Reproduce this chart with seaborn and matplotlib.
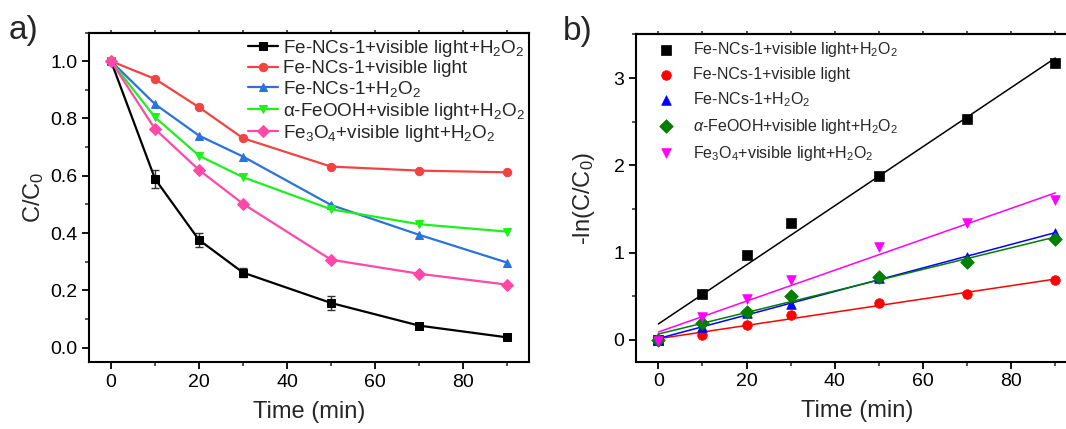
import numpy as np
import pandas as pd
import matplotlib
matplotlib.use('Agg')
import matplotlib.pyplot as plt
from matplotlib.ticker import MultipleLocator, FormatStrFormatter
import seaborn as sns

sns.set_style('ticks')
plt.rcParams['font.family'] = ['Liberation Sans', 'DejaVu Sans']
plt.rcParams['mathtext.fontset'] = 'custom'
plt.rcParams['mathtext.rm'] = 'Liberation Sans'
plt.rcParams['mathtext.it'] = 'Liberation Sans:italic'
plt.rcParams['mathtext.bf'] = 'Liberation Sans:bold'

# time points (min)
time = [0, 10, 20, 30, 50, 70, 90]

# panel a: C/C0
labels_a = ['Fe-NCs-1+visible light+H$_2$O$_2$',
            'Fe-NCs-1+visible light',
            'Fe-NCs-1+H$_2$O$_2$',
            'α-FeOOH+visible light+H$_2$O$_2$',
            'Fe$_3$O$_4$+visible light+H$_2$O$_2$']
cc_fenc_light_h2o2 = [1.0, 0.589, 0.376, 0.262, 0.156, 0.077, 0.036]
cc_fenc_light = [1.0, 0.938, 0.839, 0.731, 0.632, 0.618, 0.612]
cc_fenc_h2o2 = [1.0, 0.850, 0.740, 0.667, 0.498, 0.394, 0.297]
cc_feooh = [1.0, 0.804, 0.670, 0.595, 0.483, 0.431, 0.405]
cc_fe3o4 = [1.0, 0.763, 0.620, 0.502, 0.307, 0.258, 0.220]
err_fenc_light_h2o2 = [0.005, 0.032, 0.023, 0.016, 0.024, 0.008, 0.005]

# panel b: -ln(C/C0)
labels_b = ['Fe-NCs-1+visible light+H$_2$O$_2$',
            'Fe-NCs-1+visible light',
            'Fe-NCs-1+H$_2$O$_2$',
            '$\\mathit{\\alpha}$-FeOOH+visible light+H$_2$O$_2$',
            'Fe$_3$O$_4$+visible light+H$_2$O$_2$']
ln_fenc_light_h2o2 = [0.0, 0.525, 0.970, 1.340, 1.880, 2.530, 3.170]
ln_fenc_light = [0.0, 0.057, 0.171, 0.285, 0.426, 0.521, 0.685]
ln_fenc_h2o2 = [0.0, 0.152, 0.304, 0.411, 0.704, 0.951, 1.225]
ln_feooh = [0.0, 0.198, 0.324, 0.502, 0.723, 0.894, 1.161]
ln_fe3o4 = [-0.01, 0.266, 0.464, 0.685, 1.065, 1.343, 1.598]

colors_a = ['#000000', '#F24343', '#2A72DC', '#1EF01E', '#FF48A8']
markers_a = ['s', 'o', '^', 'v', 'D']
colors_b = ['#000000', '#FF0000', '#0000FF', '#007F00', '#FF00FF']
markers_b = ['s', 'o', '^', 'D', 'v']

series_a = [cc_fenc_light_h2o2, cc_fenc_light, cc_fenc_h2o2, cc_feooh, cc_fe3o4]
series_b = [ln_fenc_light_h2o2, ln_fenc_light, ln_fenc_h2o2, ln_feooh, ln_fe3o4]


def style_axes(ax, ymajor, yminor):
    ax.set_xlim(-5, 95)
    ax.xaxis.set_major_locator(MultipleLocator(20))
    ax.xaxis.set_minor_locator(MultipleLocator(10))
    ax.yaxis.set_major_locator(MultipleLocator(ymajor))
    ax.yaxis.set_minor_locator(MultipleLocator(yminor))
    for s in ax.spines.values():
        s.set_linewidth(1.5)
        s.set_color('black')
    ax.tick_params(which='major', direction='out', length=5, width=1.3,
                   labelsize=14, colors='black')
    ax.tick_params(which='minor', direction='out', length=3, width=1.1)
    # short unlabeled ticks along the top edge
    top = ax.secondary_xaxis('top')
    top.set_xticks(range(0, 91, 10))
    top.tick_params(length=2.5, width=1.1, labeltop=False, direction='out')
    top.spines['top'].set_linewidth(1.5)
    ax.set_xlabel('Time (min)', fontsize=17, labelpad=7)


fig = plt.figure(figsize=(10.66, 4.29), dpi=100)
ax1 = fig.add_axes([0.0835, 0.1562, 0.4128, 0.7680])
ax2 = fig.add_axes([0.5969, 0.1569, 0.4137, 0.7630])

# panel a
for vals, lab, c, m in zip(series_a, labels_a, colors_a, markers_a):
    sns.lineplot(x=time, y=vals, ax=ax1, color=c, marker=m, markersize=6,
                 markeredgecolor=c, linewidth=1.6, label=lab)
ax1.errorbar(time, cc_fenc_light_h2o2, yerr=err_fenc_light_h2o2, fmt='none',
             ecolor='#333333', elinewidth=1.0, capsize=3, capthick=1.0, zorder=1)
ax1.set_ylim(-0.05, 1.1)
style_axes(ax1, 0.2, 0.1)
ax1.yaxis.set_major_formatter(FormatStrFormatter('%.1f'))
ax1.set_ylabel('C/C$_0$', fontsize=17, labelpad=3)
ax1.legend(loc='upper left', bbox_to_anchor=(0.2326, 0.912), bbox_transform=fig.transFigure,
           frameon=False, fontsize=13.6, handlelength=1.6, handletextpad=0.28,
           labelspacing=0.08, borderpad=0, borderaxespad=0)

# panel b
df_b = pd.DataFrame({'time': np.tile(time, len(series_b)),
                     'value': np.concatenate(series_b),
                     'series': np.repeat(labels_b, len(time))})
for lab, c in zip(labels_b, colors_b):
    sub = df_b[df_b['series'] == lab]
    sns.regplot(data=sub, x='time', y='value', ax=ax2, ci=None, scatter=False,
                color=c, line_kws={'linewidth': 1.1})
for lab, c, m in zip(labels_b, colors_b, markers_b):
    sub = df_b[df_b['series'] == lab]
    sns.scatterplot(data=sub, x='time', y='value', ax=ax2, color=c, marker=m,
                    s=48, edgecolor=c, linewidth=0.5, label=lab, zorder=3)
ax2.set_ylim(-0.25, 3.5)
style_axes(ax2, 1, 0.5)
ax2.set_ylabel('-ln(C/C$_0$)', fontsize=17, labelpad=12)
ax2.legend(loc='upper left', bbox_to_anchor=(0.617, 0.907), bbox_transform=fig.transFigure,
           frameon=False, fontsize=11.5, handlelength=1.0, handletextpad=1.2,
           labelspacing=0.5, borderpad=0, borderaxespad=0)

fig.text(0.008, 1 - 39 / 429, 'a)', fontsize=24, va='baseline')
fig.text(0.528, 1 - 40 / 429, 'b)', fontsize=24, va='baseline')

fig.savefig('out.png', dpi=100)
